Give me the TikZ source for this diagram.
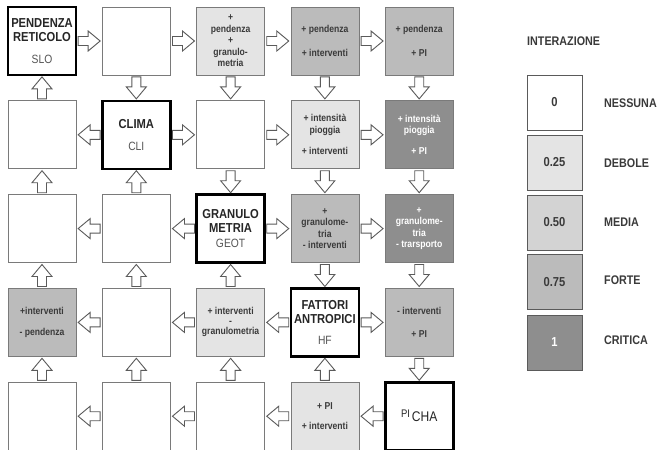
\documentclass[tikz,border=0pt]{standalone}
\usepackage{fontspec}
\setmainfont{Liberation Sans}[FakeStretch=0.86]
\usetikzlibrary{calc}
\definecolor{debole}{HTML}{E4E4E4}
\definecolor{media}{HTML}{D3D3D3}
\definecolor{forte}{HTML}{BBBBBB}
\definecolor{critica}{HTML}{8E8E8E}
\definecolor{txt}{HTML}{3A3A3A}
\definecolor{subtxt}{HTML}{555555}
\definecolor{cellline}{HTML}{7A7A7A}
\definecolor{arrowline}{HTML}{5A5A5A}
\tikzset{
  cell/.style={draw=cellline, line width=0.8pt, fill=white, minimum width=68pt, minimum height=68pt,
    inner sep=0pt, align=center, text=txt, font=\bfseries\fontsize{10}{11.5}\selectfont},
  keycell/.style={cell, draw=black, line width=2.6pt, text=black!85, font=\bfseries\fontsize{13}{14}\selectfont},
  legbox/.style={draw=arrowline, line width=1pt, minimum width=55pt, minimum height=55pt, inner sep=0pt,
    text=txt, font=\bfseries\fontsize{13}{14}\selectfont},
  leglab/.style={anchor=west, inner sep=0pt, text=txt, font=\bfseries\fontsize{12.5}{14}\selectfont},
  barrow/.pic={\draw[draw=arrowline, fill=white, line width=0.9pt, line join=miter]
    (-11,-4.5) -- (-1,-4.5) -- (-1,-10) -- (11,0) -- (-1,10) -- (-1,4.5) -- (-11,4.5) -- cycle;}
}
\newcommand{\subt}[1]{{\mdseries\fontsize{12}{12}\selectfont\color{subtxt}#1}}
\begin{document}
\begin{tikzpicture}[x=1pt,y=-1pt]
\fill[white] (0,0) rectangle (659,450);
\useasboundingbox (0,0) rectangle (659,450);
% row 1
\node[keycell] (c11) at (42,41) {PENDENZA\\RETICOLO\\[8pt]\subt{SLO}};
\node[cell] (c12) at (136.3,41) {};
\node[cell, fill=debole] (c13) at (230.6,41) {+\\pendenza\\+\\granulo-\\metria};
\node[cell, fill=forte] (c14) at (324.9,41) {+ pendenza\\[12pt]+ interventi};
\node[cell, fill=forte] (c15) at (419.2,41) {+ pendenza\\[12pt]+ PI};
% row 2
\node[cell] (c21) at (42,134.8) {};
\node[keycell] (c22) at (136.3,134.8) {CLIMA\\[8pt]\subt{CLI}};
\node[cell] (c23) at (230.6,134.8) {};
\node[cell, fill=debole] (c24) at (324.9,134.8) {+ intensità\\pioggia\\[10pt]+ interventi};
\node[cell, fill=critica, text=white] (c25) at (419.2,134.8) {+ intensità\\pioggia\\[9pt]+ PI};
% row 3
\node[cell] (c31) at (42,228.6) {};
\node[cell] (c32) at (136.3,228.6) {};
\node[keycell] (c33) at (230.6,228.6) {GRANULO\\METRIA\\[1pt]\subt{GEOT}};
\node[cell, fill=forte] (c34) at (324.9,228.6) {+\\granulome-\\tria\\- interventi};
\node[cell, fill=critica, text=white] (c35) at (419.2,228.6) {+\\granulome-\\tria\\- trarsporto};
% row 4
\node[cell, fill=forte] (c41) at (42,322.4) {+interventi\\[10pt]- pendenza};
\node[cell] (c42) at (136.3,322.4) {};
\node[cell, fill=debole] (c43) at (230.6,322.4) {+ interventi\\[-2pt]-\\[-1pt]granulometria};
\node[keycell] (c44) at (324.9,322.4) {FATTORI\\ANTROPICI\\[7pt]\subt{HF}};
\node[cell, fill=forte] (c45) at (419.2,322.4) {- interventi\\[11pt]+ PI};
% row 5
\node[cell] (c51) at (42,416.2) {};
\node[cell] (c52) at (136.3,416.2) {};
\node[cell] (c53) at (230.6,416.2) {};
\node[cell, fill=debole] (c54) at (324.9,416.2) {+ PI\\[8pt]+ interventi};
\node[keycell, font=\mdseries\fontsize{11}{12}\selectfont] (c55) at (419.2,416.2) {PI\,\raisebox{-4pt}{\fontsize{14}{14}\selectfont CHA}};
% horizontal arrows
\foreach \a/\b/\d in {c11/c12/0, c12/c13/0, c13/c14/0, c14/c15/0,
  c21/c22/180, c22/c23/0, c23/c24/0, c24/c25/0,
  c31/c32/180, c32/c33/180, c33/c34/0, c34/c35/0,
  c41/c42/180, c42/c43/180, c43/c44/180, c44/c45/0,
  c51/c52/180, c52/c53/180, c53/c54/180, c54/c55/180}
  \pic[rotate=\d] at ($(\a)!0.5!(\b)$) {barrow};
% vertical arrows
\foreach \a/\b/\d in {c11/c21/90, c12/c22/-90, c13/c23/-90, c14/c24/-90, c15/c25/-90,
  c21/c31/90, c22/c32/90, c23/c33/-90, c24/c34/-90, c25/c35/-90,
  c31/c41/90, c32/c42/90, c33/c43/90, c34/c44/-90, c35/c45/-90,
  c41/c51/90, c42/c52/90, c43/c53/90, c44/c54/90, c45/c55/-90}
  \pic[rotate=\d] at ($(\a)!0.5!(\b)$) {barrow};
% legend
\node[leglab] (title) at (527,41) {INTERAZIONE};
\node[legbox, fill=white] (l0) at (554.5,102.5) {0};
\node[legbox, fill=debole] (l1) at (554.5,162.5) {0.25};
\node[legbox, fill=media] (l2) at (554.5,222.5) {0.50};
\node[legbox, fill=forte] (l3) at (554.5,282) {0.75};
\node[legbox, fill=critica, text=white] (l4) at (554.5,342.5) {1};
\node[leglab] (n0) at (604,103) {NESSUNA};
\node[leglab] (n1) at (604,163) {DEBOLE};
\node[leglab] (n2) at (604,222) {MEDIA};
\node[leglab] (n3) at (604,280) {FORTE};
\node[leglab] (n4) at (604,340) {CRITICA};
\end{tikzpicture}
\end{document}
